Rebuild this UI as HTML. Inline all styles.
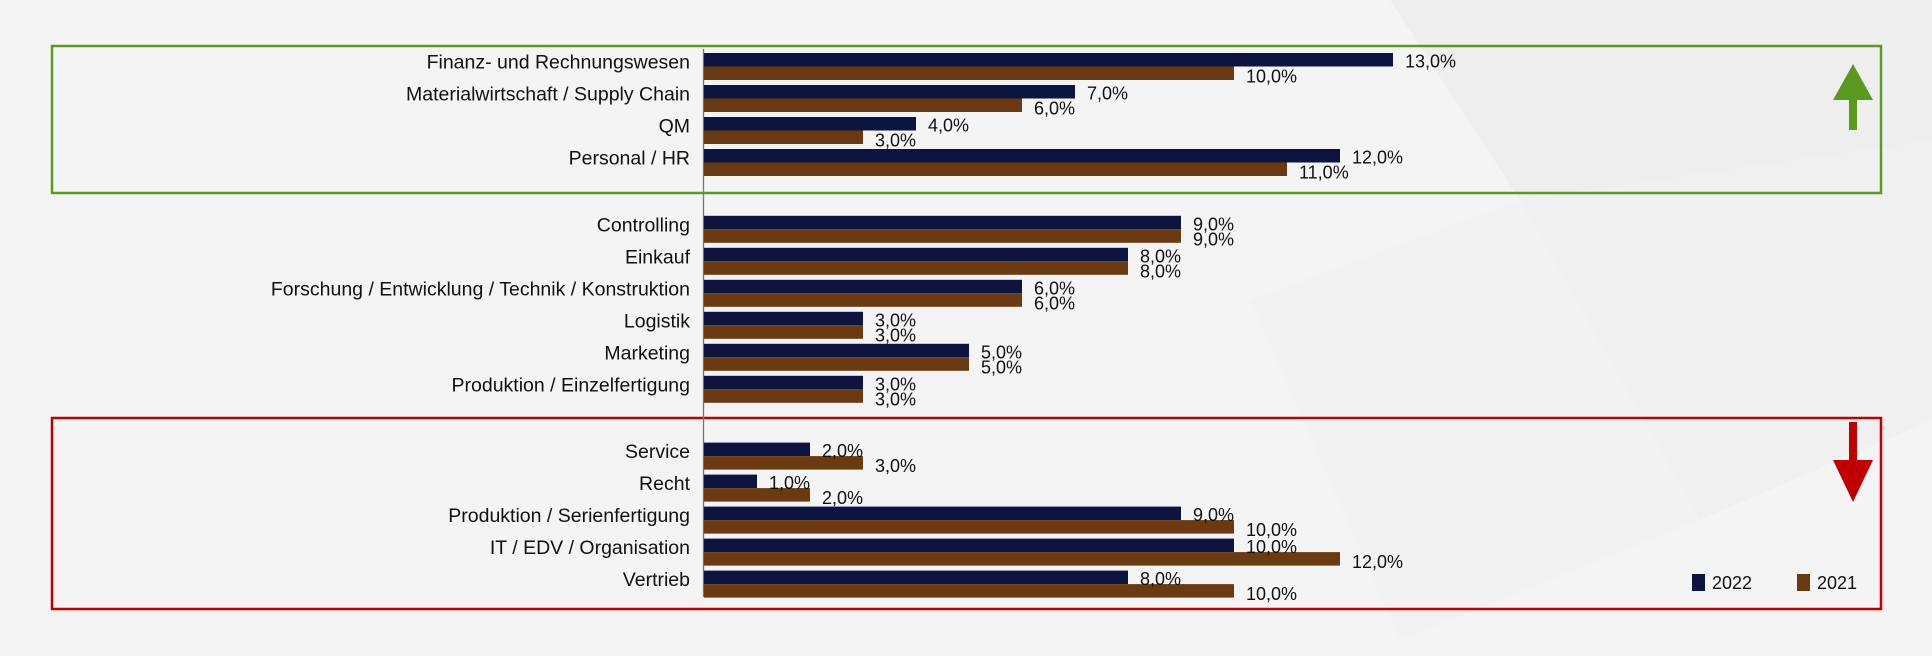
<!DOCTYPE html>
<html><head><meta charset="utf-8"><style>
body{margin:0;width:1932px;height:656px;overflow:hidden;background:#f4f4f4;font-family:"Liberation Sans",sans-serif}
svg{display:block}
</style></head><body>
<svg id="chart" width="1932" height="656" xmlns="http://www.w3.org/2000/svg">
<polygon points="1390,0 1932,0 1932,140 1520,200" fill="#eeeeee"/>
<polygon points="1520,200 1932,140 1932,420 1700,520" fill="#f0f0f0"/>
<polygon points="1250,300 1520,200 1700,520 1400,640" fill="#f2f2f2"/>
<rect x="52" y="46" width="1829" height="147" fill="none" stroke="#5a9a1e" stroke-width="2.5"/>
<rect x="52" y="418" width="1829" height="191" fill="none" stroke="#c00000" stroke-width="2.5"/>
<g><rect x="1849" y="92" width="8" height="38" fill="#5a9a1e"/><polygon points="1853,64 1833,100 1873,100" fill="#5a9a1e"/></g>
<g><rect x="1849" y="422" width="8" height="42" fill="#c00000"/><polygon points="1853,502 1833,460 1873,460" fill="#c00000"/></g>
<line x1="703.5" y1="49" x2="703.5" y2="597" stroke="#777" stroke-width="1.3"/>
<g id="bars"></g>
<g>
<rect x="1692" y="574" width="13" height="17" fill="#0b1540"/>
<text x="1712" y="589" font-size="18" fill="#111">2022</text>
<rect x="1797" y="574" width="13" height="17" fill="#6b3a10"/>
<text x="1817" y="589" font-size="18" fill="#111">2021</text>
</g>
</svg>
<script>
const categories=["Finanz- und Rechnungswesen","Materialwirtschaft / Supply Chain","QM","Personal / HR","Controlling","Einkauf","Forschung / Entwicklung / Technik / Konstruktion","Logistik","Marketing","Produktion / Einzelfertigung","Service","Recht","Produktion / Serienfertigung","IT / EDV / Organisation","Vertrieb"];
const values2022=[13,7,4,12,9,8,6,3,5,3,2,1,9,10,8];
const values2021=[10,6,3,11,9,8,6,3,5,3,3,2,10,12,10];
const groupOf=[0,0,0,0,1,1,1,1,1,1,2,2,2,2,2];
const NS="http://www.w3.org/2000/svg";
const x0=704,pxPer=53;
function xs(v){return x0+v*pxPer;}
function yc(i){return 66.5+i*32+groupOf[i]*34.8;}
const g=document.getElementById('bars');
function mk(tag,attrs){const e=document.createElementNS(NS,tag);for(const k in attrs)e.setAttribute(k,attrs[k]);g.appendChild(e);return e;}
function fmt(v){return v.toFixed(1).replace('.',',')+'%';}
categories.forEach((c,i)=>{
const y=yc(i);
const t=mk('text',{x:690,y:y+2,'font-size':19.5,'text-anchor':'end',fill:'#111'});t.textContent=c;


const b1=mk('rect',{x:x0,y:y-13.5,width:xs(values2022[i])-x0,height:13.5,fill:'#0b1540'});


const b2=mk('rect',{x:x0,y:y,width:xs(values2021[i])-x0,height:13.5,fill:'#6b3a10'});


const l1=mk('text',{x:xs(values2022[i])+12,y:y+1,'font-size':18,fill:'#111'});l1.textContent=fmt(values2022[i]);


const l2=mk('text',{x:xs(values2021[i])+12,y:y+16,'font-size':18,fill:'#111'});l2.textContent=fmt(values2021[i]);


});
</script>
</body></html>
